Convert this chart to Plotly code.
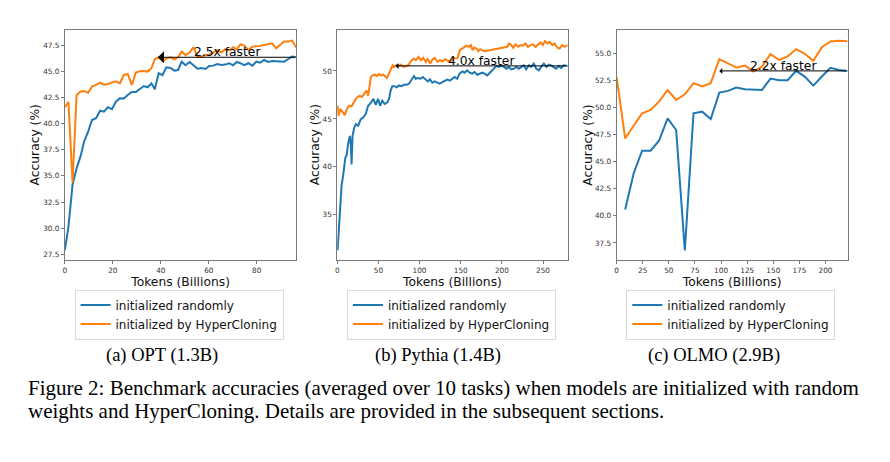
import plotly.graph_objects as go

# ---------------- data ----------------
# (a) OPT (1.3B)
opt_x = [0, 1.5, 3.2, 4.9, 6.5, 8.0, 9.7, 11.3, 13.0, 14.7,
         16.3, 17.9, 19.6, 21.3, 22.9, 24.6, 26.2, 27.9, 29.6, 31.2,
         32.9, 34.5, 36.1, 37.5, 39.1, 40.7, 42.3, 44.0, 45.7, 47.2,
         48.7, 50.3, 52.0, 53.6, 55.3, 56.9, 58.6, 60.2, 61.9, 63.5,
         65.2, 66.8, 68.5, 70.1, 71.7, 73.2, 74.8, 76.5, 78.2, 79.8,
         81.4, 83.1, 84.7, 86.4, 88.1, 89.7, 91.4, 93.0, 94.7, 96.5]
opt_rand = [27.9, 30.14, 34.13, 35.73, 36.84, 38.27, 39.23, 40.35, 40.51, 41.24,
            41.15, 41.57, 41.38, 42.1, 42.43, 42.4, 42.74, 43.03, 43.03, 43.29,
            43.6, 43.48, 43.86, 43.29, 44.82, 44.63, 45.39, 45.33, 45.07, 45.13,
            45.93, 45.59, 45.9, 45.59, 45.26, 45.33, 45.23, 45.52, 45.55, 45.71,
            45.62, 45.65, 45.78, 45.59, 45.9, 45.78, 45.59, 45.78, 45.55, 45.93,
            45.84, 46.09, 45.9, 46.0, 45.97, 46.0, 45.93, 46.16, 46.41, 46.35]
opt_hc = [41.57, 42.1, 34.35, 42.74, 43.06, 43.13, 42.96, 43.54, 43.7, 43.92,
          43.73, 43.8, 43.95, 44.05, 43.86, 44.66, 44.75, 43.7, 44.88, 45.01,
          45.04, 44.98, 45.3, 46.16, 46.35, 46.0, 46.22, 46.35, 46.16, 46.35,
          46.89, 46.57, 46.8, 47.31, 46.41, 46.41, 46.57, 46.57, 46.8, 47.05,
          46.8, 47.12, 47.0, 47.31, 47.12, 47.6, 47.47, 47.05, 47.37, 47.37,
          47.44, 47.53, 47.63, 47.69, 47.21, 47.53, 47.85, 47.85, 47.95, 47.28]

# (b) Pythia (1.4B)
py_x_rand = [0.4, 1.6, 3.2, 5.2, 7.6, 9.8, 11.4, 13.4, 15.4, 16.6,
             17.4, 18.6, 20.6, 22.6, 25.4, 28.6, 31.4, 34.6, 37.5, 40.7,
             43.9, 46.8, 49.6, 52.0, 54.8, 57.6, 60.9, 62.9, 64.9, 66.9,
             69.8, 72.2, 75.0, 77.8, 81.1, 84.3, 87.1, 89.9, 93.2, 95.2,
             98.0, 101.3, 104.1, 107.4, 110.2, 112.6, 115.5, 118.3, 121.5, 124.4,
             127.6, 130.4, 133.6, 136.9, 139.8, 142.6, 145.8, 148.6, 151.9, 154.7,
             157.9, 160.8, 164.0, 166.8, 170.1, 173.3, 176.1, 179.0, 182.2, 185.4,
             188.3, 191.1, 193.6, 196.4, 199.3, 202.5, 205.7, 208.5, 211.4, 214.6,
             217.8, 220.6, 223.5, 226.7, 229.5, 232.8, 235.6, 238.8, 241.7, 244.9,
             247.7, 251.0, 254.2, 257.0, 259.9, 263.1, 265.9, 269.2, 272.0, 275.2,
             280.0]
py_rand = [31.3, 33.07, 36.05, 38.0, 39.38, 40.96, 41.2, 42.53, 43.23, 42.18,
           40.25, 43.23, 44.11, 44.46, 44.3, 44.98, 45.15, 45.51, 46.38, 46.67,
           47.09, 46.46, 47.09, 46.38, 46.9, 46.56, 46.74, 47.09, 47.96, 48.42,
           48.42, 48.3, 48.49, 48.42, 48.56, 48.56, 48.67, 49.0, 49.47, 49.19,
           49.26, 49.19, 49.37, 49.1, 48.91, 49.12, 48.77, 48.91, 48.77, 48.67,
           48.84, 49.0, 49.1, 49.0, 49.19, 49.37, 49.19, 49.72, 49.96, 49.82,
           50.07, 49.82, 49.72, 49.89, 49.61, 49.72, 49.82, 49.72, 49.54, 49.82,
           50.07, 50.24, 50.53, 50.42, 50.59, 50.42, 50.24, 50.42, 50.17, 50.24,
           50.42, 50.24, 50.42, 50.59, 50.17, 50.59, 50.42, 50.77, 50.24, 50.07,
           50.42, 50.77, 50.42, 50.66, 50.59, 50.42, 50.24, 50.53, 50.31, 50.59,
           50.53]
py_x_hc = [0.4, 1.6, 3.6, 6.4, 9.2, 11.7, 14.6, 17.4, 19.8, 22.6,
           24.6, 27.5, 29.9, 32.8, 35.6, 37.6, 39.2, 40.9, 42.9, 45.7,
           48.2, 50.6, 53.0, 55.5, 57.9, 60.3, 62.8, 65.2, 67.2, 69.2,
           71.2, 74.1, 77.3, 80.6, 83.4, 86.2, 89.4, 92.7, 95.5, 98.8,
           101.6, 104.4, 107.7, 109.7, 113.0, 115.8, 118.6, 121.8, 124.7, 127.9,
           130.8, 134.0, 137.2, 140.0, 142.9, 146.1, 148.9, 151.0, 154.2, 157.1,
           160.3, 162.3, 164.4, 166.4, 169.2, 171.3, 173.7, 176.6, 179.0, 206.6,
           208.5, 211.4, 213.8, 216.6, 219.5, 222.7, 225.5, 228.8, 231.6, 234.9,
           237.7, 240.9, 243.8, 247.0, 249.8, 252.3, 255.1, 258.0, 261.2, 264.0,
           267.3, 270.1, 273.3, 276.2, 280.0]
py_hc = [46.38, 45.33, 46.04, 45.69, 45.4, 46.04, 46.38, 46.32, 46.74, 47.09,
         47.27, 47.43, 47.27, 47.61, 47.96, 47.43, 48.32, 49.37, 49.54, 49.61,
         49.47, 49.68, 49.54, 49.61, 49.47, 49.26, 49.72, 50.17, 50.59, 50.42,
         50.59, 50.53, 50.66, 50.42, 50.48, 50.59, 51.01, 51.29, 51.12, 51.47,
         51.12, 51.36, 50.94, 51.29, 50.77, 51.22, 51.36, 50.94, 51.12, 51.01,
         51.22, 51.12, 50.94, 51.29, 51.36, 51.36, 52.17, 52.27, 52.42, 52.63,
         52.52, 52.7, 52.17, 52.42, 52.34, 52.07, 52.27, 52.17, 52.07, 52.52,
         52.87, 52.7, 52.42, 52.77, 52.52, 52.7, 52.63, 52.87, 52.52, 52.7,
         52.77, 52.52, 52.7, 52.98, 52.7, 53.11, 52.87, 53.04, 52.7, 52.87,
         52.42, 52.34, 52.7, 52.52, 52.7]

# (c) OLMO (2.9B)
olmo_x = [0, 8.2, 16.3, 24.4, 32.5, 40.6, 48.8, 57.0, 65.3, 73.6,
          81.9, 90.1, 98.3, 106.5, 114.6, 122.8, 131.0, 139.1, 147.3, 155.5,
          163.7, 171.9, 180.1, 188.3, 196.5, 204.7, 212.9, 221.1]
olmo_rand = [None, 40.58, 43.91, 46.0, 46.0, 46.92, 48.99, 47.91, 36.82, 49.45,
             49.6, 48.93, 51.36, 51.52, 51.82, 51.67, 51.6, 51.6, 52.65, 52.5,
             52.5, 53.36, 52.84, 52.0, 52.84, 53.64, 53.45, 53.36]
olmo_hc = [52.78, 47.14, 48.3, 49.45, 49.76, 50.53, 51.6, 50.68, 51.2, 52.23,
           51.92, 52.23, 54.45, 54.08, 53.67, 53.85, 53.3, 53.76, 54.9, 54.38,
           54.69, 55.37, 54.94, 54.29, 55.55, 56.07, 56.14, 56.1]

# speed-up arrows: (label, tip x, tail x, y)
speedups = [("2.5x faster", 38.8, 96.5, 46.35),
            ("4.0x faster", 70.8, 280.0, 50.53),
            ("2.2x faster", 98.3, 221.1, 53.36)]

x_ranges = [[0, 96.5], [0, 280.0], [0, 221.1]]
y_ranges = [[26.95, 48.96], [30.3, 54.27], [35.93, 57.13]]
x_ticks = [[0, 20, 40, 60, 80], [0, 50, 100, 150, 200, 250],
           [0, 25, 50, 75, 100, 125, 150, 175, 200]]
y_ticks = [[27.5, 30.0, 32.5, 35.0, 37.5, 40.0, 42.5, 45.0, 47.5],
           [35, 40, 45, 50],
           [37.5, 40.0, 42.5, 45.0, 47.5, 50.0, 52.5, 55.0]]
y_tickfmt = [".1f", "d", ".1f"]
sub_captions = ["(a) OPT (1.3B)", "(b) Pythia (1.4B)", "(c) OLMO (2.9B)"]
series_names = ["initialized randomly", "initialized by HyperCloning"]
fig_caption = ["Figure 2: Benchmark accuracies (averaged over 10 tasks) when models are initialized with random",
               "weights and HyperCloning. Details are provided in the subsequent sections."]

# ---------------- layout ----------------
W, H = 890, 462
BLUE, ORANGE = "#1f77b4", "#ff7f0e"
SANS = "DejaVu Sans"
SERIF = "Liberation Serif"
LABEL_SIZE = 12.3

def px(v):
    return v / W

def py(v):
    return 1 - v / H

x_dom = [(63, 295), (336, 567), (616, 847.5)]
y_top, y_bot = 30, 260
legend_left = [72.7, 345.7, 625.7]
caption_cx = [160.5, 437, 713.7]
ytitle_x = [33.5, 314, 587]

series = [
    (opt_x, opt_rand, opt_x, opt_hc),
    (py_x_rand, py_rand, py_x_hc, py_hc),
    (olmo_x, olmo_rand, olmo_x, olmo_hc),
]

fig = go.Figure()
annotations = []
layout = {}
for i in range(3):
    xa = "x" if i == 0 else f"x{i+1}"
    ya = "y" if i == 0 else f"y{i+1}"
    lg = "legend" if i == 0 else f"legend{i+1}"
    xr, yr1, xh, yh = series[i]
    fig.add_trace(go.Scatter(x=xr, y=yr1, mode="lines", name=series_names[0],
                             line=dict(color=BLUE, width=2), xaxis=xa, yaxis=ya,
                             legend=lg))
    fig.add_trace(go.Scatter(x=xh, y=yh, mode="lines", name=series_names[1],
                             line=dict(color=ORANGE, width=2), xaxis=xa, yaxis=ya,
                             legend=lg))
    axis_common = dict(showline=True, mirror=True, linecolor="#7a7a7a", linewidth=1,
                       showgrid=False, zeroline=False, ticks="outside", ticklen=3,
                       tickcolor="#7a7a7a", tickwidth=1,
                       tickfont=dict(family=SANS, size=7.3, color="#333333"))
    layout["xaxis" if i == 0 else f"xaxis{i+1}"] = dict(
        domain=[px(x_dom[i][0]), px(x_dom[i][1])], range=x_ranges[i],
        anchor=ya, tickvals=x_ticks[i],
        title=dict(text="Tokens (Billions)", font=dict(family=SANS, size=LABEL_SIZE, color="#111"),
                   standoff=2),
        **axis_common)
    layout["yaxis" if i == 0 else f"yaxis{i+1}"] = dict(
        domain=[py(y_bot), py(y_top)], range=y_ranges[i], anchor=xa,
        tickvals=y_ticks[i], tickformat=y_tickfmt[i], **axis_common)
    annotations.append(dict(text="Accuracy (%)", x=px(ytitle_x[i]), y=py(145),
                            xref="paper", yref="paper", showarrow=False, textangle=-90,
                            font=dict(family=SANS, size=LABEL_SIZE, color="#111"),
                            xanchor="center", yanchor="middle"))
    layout[lg] = dict(x=px(legend_left[i]), y=py(289.5), xanchor="left", yanchor="top",
                      bgcolor="rgba(255,255,255,0.8)", bordercolor="#d9d9d9", borderwidth=1,
                      font=dict(family=SANS, size=12, color="#111"),
                      itemwidth=30, tracegroupgap=0)
    label, tip, tail, yv = speedups[i]
    annotations.append(dict(x=tip, y=yv, ax=tail, ay=yv, xref=xa, yref=ya,
                            axref=xa, ayref=ya, text="", showarrow=True,
                            arrowhead=1, arrowsize=2.0 if i == 0 else 1.0,
                            arrowwidth=1, arrowcolor="black", standoff=0,
                            startstandoff=0))
    annotations.append(dict(x=(tip + tail) / 2, y=yv, xref=xa, yref=ya, text=label,
                            showarrow=False, xanchor="center", yanchor="bottom",
                            yshift=-4, font=dict(family=SANS, size=LABEL_SIZE, color="black")))
    annotations.append(dict(text=sub_captions[i], x=px(caption_cx[i]), y=py(355),
                            xref="paper", yref="paper", showarrow=False,
                            xanchor="center", yanchor="middle",
                            font=dict(family=SERIF, size=18.5, color="black")))

for k, line in enumerate(fig_caption):
    annotations.append(dict(text=line, x=px(24), y=py(388 + 23 * k), xref="paper", yref="paper",
                            showarrow=False, xanchor="left", yanchor="middle",
                            font=dict(family=SERIF, size=21, color="black")))

fig.update_layout(width=W, height=H, margin=dict(l=0, r=0, t=0, b=0),
                  paper_bgcolor="white", plot_bgcolor="white",
                  annotations=annotations, **layout)

fig.write_html("out.html", config={"displayModeBar": False},
               post_script="document.body.style.margin='0';document.body.style.padding='0';")
